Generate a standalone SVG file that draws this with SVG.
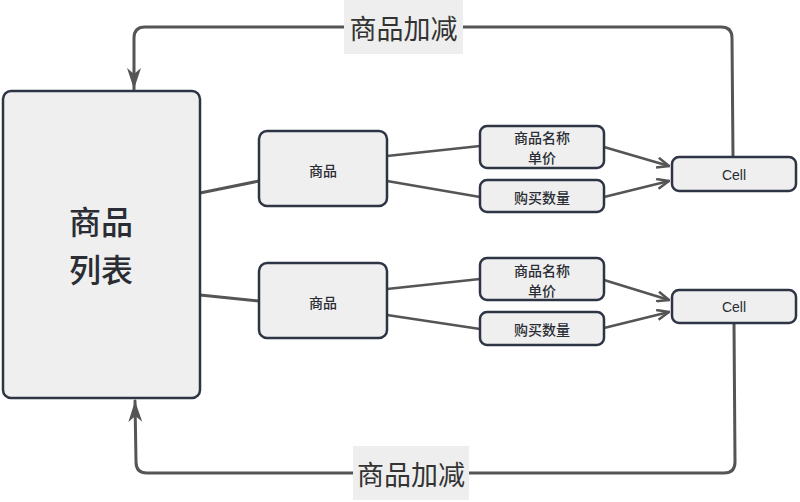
<svg xmlns="http://www.w3.org/2000/svg" width="800" height="502" viewBox="0 0 800 502">
<style>
.box{fill:#efefef;stroke:#2d3444;stroke-width:2.5}
.t{font-family:"Noto Sans CJK SC","Noto Sans",sans-serif;fill:#2a2d33;text-anchor:middle;dominant-baseline:central}
.s{font-size:14px;font-weight:500}
.big{font-size:32px;font-weight:500}
.lab{font-size:27px;fill:#333}
.c{fill:none;stroke:#555;stroke-width:3;stroke-linejoin:round;stroke-linecap:round}
.thin{fill:none;stroke:#555;stroke-width:2.5}
</style>
<defs>
<marker id="open" viewBox="0 0 14 12" refX="13" refY="6" markerWidth="14" markerHeight="12" markerUnits="userSpaceOnUse" orient="auto">
<path d="M1,1 L13,6 L1,11" fill="none" stroke="#555" stroke-width="2.5"/>
</marker>
<marker id="solid" viewBox="0 0 22 14" refX="21" refY="7" markerWidth="22" markerHeight="14" markerUnits="userSpaceOnUse" orient="auto">
<path d="M0,0 L21,7 L0,14 L6,7 Z" fill="#555"/>
</marker>
</defs>
<g id="connectors">
<path class="c" d="M200,193 L259,181"/>
<path class="c" d="M200,295 L259,301"/>
<path class="thin" d="M387,156 L480,146"/>
<path class="thin" d="M387,181 L480,197"/>
<path class="thin" d="M387,289 L480,279"/>
<path class="thin" d="M387,315 L480,329"/>
<path class="thin" d="M604,147 L669,166" marker-end="url(#open)"/>
<path class="thin" d="M604,197 L669,181" marker-end="url(#open)"/>
<path class="thin" d="M604,280 L669,300" marker-end="url(#open)"/>
<path class="thin" d="M604,328 L669,312" marker-end="url(#open)"/>
<path class="c" d="M733,157 L732,38 Q732,27 721,27 L145,27 Q134,27 134,38 L134,89" marker-end="url(#solid)"/>
<path class="c" d="M734,323 L735,462 Q735,473 724,473 L147,473 Q136,473 136,462 L135,401" marker-end="url(#solid)"/>
</g>
<g id="label-top">
<rect x="344" y="0" width="119" height="54" fill="#eeeeee"/>
<text class="t lab" x="403.500" y="27">商品加减</text>
</g>
<g id="label-bottom">
<rect x="353" y="446" width="116" height="54" fill="#eeeeee"/>
<text class="t lab" x="411" y="473">商品加减</text>
</g>
<g id="list">
<rect class="box" x="3" y="91" width="197" height="307" rx="8"/>
<text class="t big" x="101" y="220">商品</text>
<text class="t big" x="101" y="268">列表</text>
</g>
<g id="item1">
<rect class="box" x="259" y="131" width="128" height="75" rx="8"/>
<text class="t s" x="323" y="170">商品</text>
</g>
<g id="item2">
<rect class="box" x="259" y="263" width="128" height="75" rx="8"/>
<text class="t s" x="323" y="302">商品</text>
</g>
<g id="name1">
<rect class="box" x="480" y="126" width="124" height="42" rx="7"/>
<text class="t s" x="542" y="137">商品名称</text>
<text class="t s" x="542" y="157">单价</text>
</g>
<g id="qty1">
<rect class="box" x="480" y="180" width="124" height="32" rx="7"/>
<text class="t s" x="542" y="197">购买数量</text>
</g>
<g id="name2">
<rect class="box" x="480" y="258" width="124" height="42" rx="7"/>
<text class="t s" x="542" y="270">商品名称</text>
<text class="t s" x="542" y="290">单价</text>
</g>
<g id="qty2">
<rect class="box" x="480" y="312" width="124" height="33" rx="7"/>
<text class="t s" x="542" y="329">购买数量</text>
</g>
<g id="cell1">
<rect class="box" x="672" y="157" width="124" height="34" rx="7"/>
<text class="t s" x="734" y="175" style="font-family:'Liberation Sans',sans-serif;font-weight:normal">Cell</text>
</g>
<g id="cell2">
<rect class="box" x="672" y="290" width="124" height="33" rx="7"/>
<text class="t s" x="734" y="307" style="font-family:'Liberation Sans',sans-serif;font-weight:normal">Cell</text>
</g>
</svg>
